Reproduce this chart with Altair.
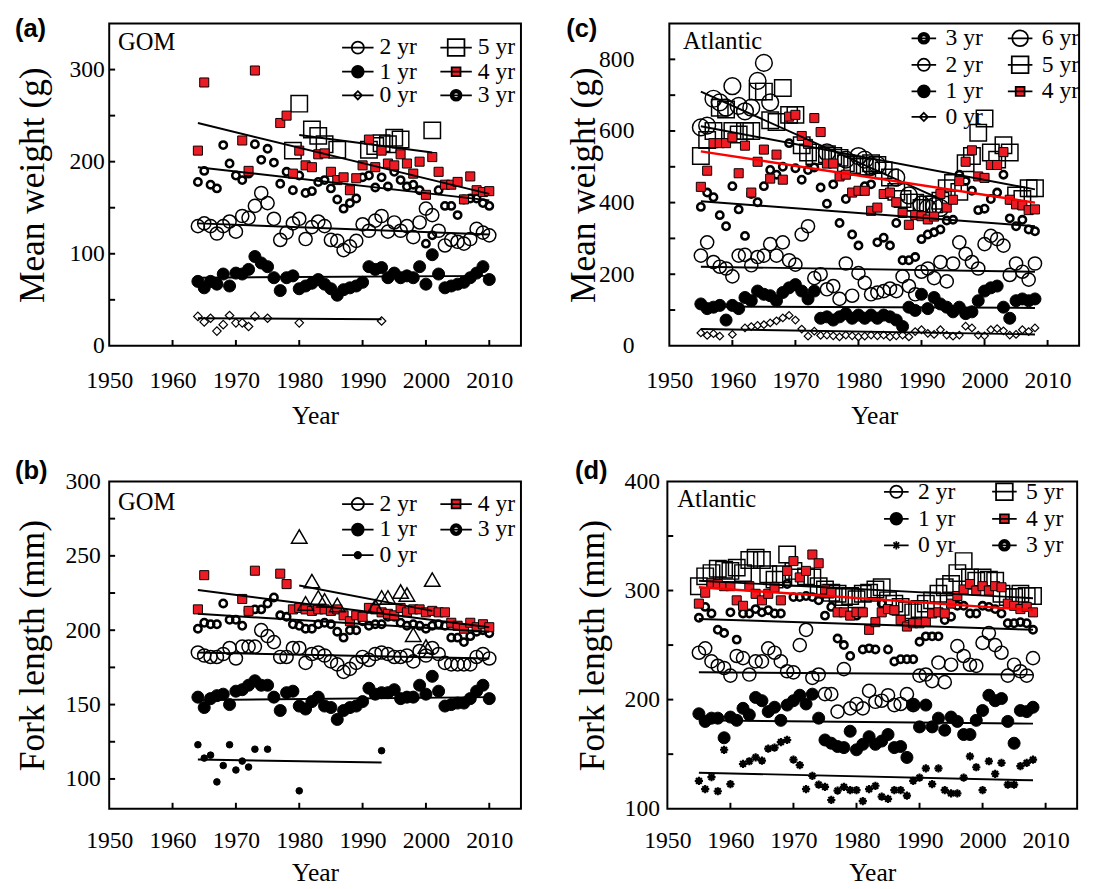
import altair as alt
import pandas as pd
import numpy as np

SERIF = "Liberation Serif"
SANS = "Liberation Sans"
RED = "#ed1c24"

YEARS_GOM = list(range(1964, 2011))
YEARS_ATL = list(range(1955, 2009))
X_LABELS = [1950, 1960, 1970, 1980, 1990, 2000, 2010]
X_TICKS = [1960, 1970, 1980, 1990, 2000, 2010]

# ---------------- (a) GOM, mean weight (g)
a_0yr_years = [1964, 1965, 1966, 1967, 1968, 1969, 1970, 1971, 1972, 1973, 1975, 1980, 1993]
a_0yr = [32, 26, 30, 16, 23, 33, 25, 25, 21, 32, 30, 25, 27]
a_1yr = [70, 63, 70, 67, 78, 65, 79, 78, 83, 97, 90, 86, 74, 60, 74, 76, 62, 65, 68, 72,
         67, 62, 55, 61, 63, 65, 69, 86, 83, 85, 74, 79, 74, 76, 74, 86, 67, 99, 78, 63,
         65, 67, 69, 74, 79, 86, 72]
a_2yr = [130, 133, 130, 122, 130, 135, 124, 141, 139, 152, 166, 155, 138, 115, 123, 133, 138, 116, 129, 135,
         130, 115, 114, 104, 108, 114, 132, 125, 136, 141, 124, 134, 125, 130, 118, 134, 149, 142, 125, 109,
         115, 113, 111, 116, 127, 123, 120]
a_3yr = [178, 190, 175, 171, 218, 198, 185, 180, 187, 219, 202, 214, 199, 176, 189, 169, 185, 166, 168, 178,
         180, 171, 159, 149, 155, 160, 183, 185, 172, 183, 173, 189, 180, 173, 175, 169, 111, 120, 169, 152,
         152, 142, 159, 160, 160, 155, 152]
a_4yr_years = [1964, 1965, 1971, 1972, 1973] + list(range(1977, 2011))
a_4yr = [212, 286, 223, 190, 299, 242, 250, 187, 212, 196, 194, 208, 209, 189, 180, 183, 169, 182, 196, 224,
         194, 212, 198, 196, 208, 198, 187, 200, 164, 205, 189, 175, 175, 178, 159, 184, 169, 167, 168]
a_5yr_years = [1979, 1980, 1982, 1983, 1984, 1986, 1991, 1992, 1993, 1994, 1995, 1996, 2001]
a_5yr = [212, 263, 235, 228, 219, 213, 213, 217, 220, 219, 226, 224, 234]
a_trend_age = ["0 yr", "1 yr", "2 yr", "3 yr", "4 yr", "5 yr"]
a_trend_x0 = [1964, 1964, 1964, 1964, 1964, 1980]
a_trend_x1 = [1993, 2010, 2010, 2010, 2010, 2001]
a_trend_y0 = [30, 74, 133, 194, 242, 229]
a_trend_y1 = [29, 76, 121, 158, 165, 210]

# ---------------- (b) GOM, fork length (mm)
b_0yr_years = [1964, 1965, 1966, 1967, 1968, 1969, 1970, 1971, 1972, 1973, 1975, 1980, 1993]
b_0yr = [123, 114, 116, 98, 109, 123, 106, 112, 108, 120, 120, 92, 119]
b_1yr = [155, 148, 154, 156, 157, 150, 159, 160, 163, 166, 163, 163, 155, 146, 158, 159, 149, 147, 152, 155,
         149, 148, 140, 146, 148, 149, 152, 161, 157, 158, 158, 160, 154, 155, 155, 163, 157, 169, 159, 149,
         150, 151, 151, 154, 159, 163, 154]
b_2yr = [185, 183, 182, 182, 184, 188, 181, 189, 189, 189, 200, 196, 192, 182, 182, 188, 188, 178, 184, 185,
         183, 179, 177, 172, 174, 178, 182, 180, 184, 185, 184, 182, 182, 183, 179, 186, 183, 188, 184, 178,
         177, 177, 177, 177, 182, 184, 181]
b_3yr = [201, 205, 204, 204, 218, 207, 207, 203, 213, 214, 214, 218, 222, 210, 209, 204, 203, 201, 201, 204,
         205, 204, 199, 195, 200, 200, 206, 203, 204, 204, 209, 209, 205, 203, 204, 203, 201, 203, 204, 203,
         195, 195, 192, 196, 199, 200, 198]
b_4yr_years = [1964, 1965, 1971, 1972, 1973] + list(range(1977, 2011))
b_4yr = [214, 237, 221, 213, 240, 238, 231, 214, 215, 214, 213, 214, 214, 213, 214, 210, 206, 210, 209, 215,
         214, 212, 211, 210, 215, 212, 214, 214, 212, 213, 212, 212, 205, 203, 201, 205, 202, 204, 202]
b_5yr_years = [1980, 1981, 1982, 1983, 1984, 1986, 1992, 1993, 1994, 1996, 1997, 1998, 2000, 2001]
b_5yr = [263, 218, 233, 222, 220, 217, 216, 222, 222, 226, 224, 197, 189, 234]
b_trend_age = ["0 yr", "1 yr", "2 yr", "3 yr", "4 yr", "5 yr"]
b_trend_x0 = [1964, 1964, 1964, 1964, 1964, 1980]
b_trend_x1 = [1993, 2010, 2010, 2010, 2010, 2001]
b_trend_y0 = [113, 153, 185, 211, 227, 230]
b_trend_y1 = [111, 155, 181, 199, 202, 213]

# ---------------- (c) Atlantic, mean weight (g)
c_0yr = [36, 29, 34, 27, None, 32, None, 50, 54, 57, 59, 64, 70, 78, 85, 72, 47, 27, 41, 29,
         30, 28, 25, 30, 28, 25, 27, 30, 28, 30, 25, 28, 30, 25, 40, 45, 35, 32, 45, 30,
         27, 30, 55, 50, 30, 28, 45, 48, 42, 30, 32, 45, 40, 50]
c_1yr = [117, 104, 108, 113, 72, 113, 104, 135, 126, 153, 144, 140, 126, 149, 162, 171, 153, 131, 153, 77,
         81, 72, 81, 90, 77, 86, 77, 86, 77, 86, 81, 72, 54, 108, 99, 144, 104, 135, 117, 108,
         95, 108, 90, 95, 126, 153, 162, 167, 108, 77, 126, 131, 126, 131]
c_2yr = [252, 289, 234, 221, 216, 194, 252, 254, 225, 248, 252, 284, 252, 289, 239, 227, 311, 334, 189, 200,
         158, 167, 131, 230, 140, 203, 176, 144, 149, 153, 160, 153, 194, 167, 144, 207, 216, 189, 234, 180,
         230, 289, 257, 234, 216, 284, 307, 298, 280, 198, 230, 207, 185, 230]
c_3yr = [388, 428, 415, 365, 334, 446, 381, 307, 424, 401, 446, 491, 478, 500, 566, 496, 464, 491, 498, 442,
         397, 451, 343, 410, 311, 280, 446, 451, 289, 302, 280, 343, 239, 239, 248, 298, 311, 317, 325, 350,
         352, 478, 460, 433, 379, 383, 410, 428, 478, 356, 334, 352, 325, 320]
c_4yr = [444, 489, 566, 566, 566, 582, 482, 559, 428, 514, 548, 467, 534, 464, 640, 645, 586, 564, 636, 597,
         509, 509, 473, 478, 428, 433, 433, 377, 386, 424, 428, 401, 371, 338, 365, 362, 353, 361, 424, 386,
         408, 460, 514, 546, 473, 469, 505, 505, 541, 408, 395, 392, 379, 381]
c_5yr = [530, 575, 600, 665, 660, 600, 590, 600, 600, 710, 710, 630, 625, 720, 645, 645, 560, 540, 530, 530,
         535, 530, 525, 510, 505, 500, 500, 510, 505, 490, 470, 430, 410, 400, 400, 385, 395, 395, 405, 440,
         455, 430, 510, 530, 595, 635, 540, 520, 560, 540, 420, 410, 440, 440]
c_6yr_years = [1955, 1956, 1957, 1958, 1959, 1960, 1961, 1962, 1963, 1964, 1965, 1966, 1975, 1978, 1980,
               1981, 1982, 1983, 1986, 1988, 1990, 1991, 1992, 1993]
c_6yr = [610, 615, 690, 680, 665, 725, 670, 655, 665, 740, 790, 680, 540, 520, 530,
         520, 500, 505, 470, 420, 395, 385, 390, 385]
c_trend_age = ["0 yr", "1 yr", "2 yr", "3 yr", "4 yr", "5 yr", "6 yr"]
c_trend_x0 = [1955, 1955, 1955, 1955, 1955, 1955, 1955]
c_trend_x1 = [2008, 2008, 2008, 2008, 2008, 2008, 1993]
c_trend_y0 = [47, 110, 221, 404, 543, 613, 710]
c_trend_y1 = [32, 106, 207, 334, 400, 437, 410]

# ---------------- (d) Atlantic, fork length (mm)
d_0yr = [125.5, 118, 129, 116, 154, 122.5, None, 141, 143.5, 147, 144, 155, 156, 161, 163, 145, 140, 118, 130, 122,
         120, 108, 116.5, 120, 117, 117, 107, 118, 121, 111, 109, 117, 117, 112, 125.5, 128.5, 137, 122.5, 137, 117,
         114, 114, 128.5, 148, 138, 117, 143.5, 132, 142, 122, 122, 139, 142, 145]
d_1yr = [187, 180, 183, 183, 165, 184, 181, 192, 186, 202, 199, 189, 193, 181, 195, 199, 204, 196, 205, 183,
         163, 160, 157, 156, 171, 154, 159, 166, 159, 162, 168, 156, 157, 147, 195, 175, 195, 175, 183, 172,
         184, 180, 168, 168, 181, 190, 204, 199, 201, 180, 160, 190, 189, 193]
d_2yr = [243, 247, 235, 231, 229, 222, 240, 238, 223, 235, 235, 247, 243, 235, 226, 225, 250, 264, 220, 223,
         205, 205, 189, 228, 192, 196, 192, 208, 198, 199, 204, 195, 196, 205, 195, 222, 223, 217, 234, 216,
         232, 249, 240, 232, 231, 252, 261, 250, 243, 222, 232, 226, 222, 238]
d_3yr = [275, 285, 279, 264, 261, 280, 255, 279, 279, 283, 280, 282, 279, 279, 306, 294, 294, 295, 294, 291,
         277, 285, 256, 250, 240, 277, 246, 247, 246, 288, 246, 235, 237, 237, 237, 253, 258, 258, 258, 273,
         276, 286, 286, 279, 279, 286, 285, 283, 279, 270, 270, 271, 270, 264]
d_4yr = [288, 298, 307, 306, 304, 304, 291, 286, 304, 297, 291, 297, 303, 291, 318, 327, 312, 318, 333, 325,
         301, 298, 280, 280, 277, 280, 280, 264, 271, 280, 283, 282, 273, 267, 270, 270, 271, 279, 280, 279,
         288, 295, 301, 306, 300, 304, 300, 304, 303, 288, 286, 283, 285, 280]
d_5yr = [304, 313, 316, 320, 319, 318, 321, 316, 328, 330, 328, 315, 310, 315, 333, 318, 312, 313, 312, 304,
         301, 298, 297, 294, 295, 292, 297, 298, 301, 303, 291, 288, 285, 282, 280, 283, 288, 291, 297, 303,
         306, 316, 327, 312, 309, 312, 310, 309, 297, 294, 294, 297, 295, 295]
d_trend_age = ["0 yr", "1 yr", "2 yr", "3 yr", "4 yr", "5 yr"]
d_trend_x0 = [1955, 1955, 1955, 1955, 1955, 1955]
d_trend_x1 = [2008, 2008, 2008, 2008, 2008, 2008]
d_trend_y0 = [133, 181, 225, 274, 303, 309]
d_trend_y1 = [126, 178, 223, 264, 282, 293]


# ---------------- symbol helpers
def circ(r, sweep=1):
    return f"M{r},0A{r},{r},0,1,{sweep},{-r},0A{r},{r},0,1,{sweep},{r},0Z"


def sq(h):
    return f"M{-h},{-h}L{h},{-h}L{h},{h}L{-h},{h}Z"


def dia(h):
    return f"M0,{-h}L{h},0L0,{h}L{-h},0Z"


def star(h):
    d = round(h * 0.7, 3)
    return f"M0,{-h}L0,{h}M{-h},0L{h},0M{-d},{-d}L{d},{d}M{-d},{d}L{d},{-d}"


def bar(L):
    return f"M{-L},0L{L},0"


STAR = star(1)

OPEN_C = dict(shape="circle", filled=False, stroke="black", strokeWidth=1.5)
MARK = {
    "0 yr": dict(shape="diamond", size=75, filled=True, fill="white", stroke="black", strokeWidth=1.2),
    "1 yr": dict(shape="circle", size=150, filled=True, fill="black", stroke="black", strokeWidth=1),
    "2 yr": dict(size=180, **OPEN_C),
    "3 yr": dict(shape="circle", size=56, filled=False, stroke="black", strokeWidth=2.6),
    "4 yr": dict(shape="square", size=85, filled=True, fill=RED, stroke="black", strokeWidth=1),
    "5 yr": dict(shape="square", size=280, filled=False, stroke="black", strokeWidth=1.5),
    "6 yr": dict(size=290, **OPEN_C),
}
MARK_B0 = dict(shape="circle", size=45, filled=True, fill="black", stroke="black", strokeWidth=1)
MARK_TRI = dict(shape="triangle-up", size=250, filled=False, stroke="black", strokeWidth=1.5)
MARK_D0 = dict(shape=STAR, size=70, filled=False, stroke="black", strokeWidth=2.2)


def leg_sym(age, L, variant=None):
    if age == "0 yr":
        if variant == "dot":
            return bar(L) + circ(0.33), "black"
        if variant == "star":
            return bar(L) + star(0.42), "black"
        return bar(L) + dia(0.42), "white"
    if age == "1 yr":
        return bar(L) + circ(0.6), "black"
    if age == "2 yr":
        return bar(L) + circ(0.62), "white"
    if age == "3 yr":
        return bar(L) + circ(0.55) + circ(0.3, 0), "black"
    if age == "4 yr":
        return bar(L) + sq(0.45), RED
    if age == "5 yr":
        return bar(L) + sq(0.85), "white"
    if age == "6 yr":
        return bar(L) + circ(0.8), "white"


DRAW_ORDER = ["0 yr", "1 yr", "2 yr", "3 yr", "5 yr", "6 yr", "4 yr"]


def panel(letter, region, ytitle, series, styles, trends, red_age, ydomain, ylabels, yticks,
          legend_order, L, zero_variant, lgeom, width, height, lab_pad, tit_pad, toff, rxy,
          xlab_pad, xtit_pad):
    xs = alt.Scale(domain=[1950, 2015], nice=False, zero=False)
    ys = alt.Scale(domain=ydomain, nice=False, zero=False)
    xaxis = alt.Axis(values=X_LABELS, format="d", title="Year", labelFlush=False, labelOverlap=False,
                     ticks=False, domain=False, grid=False, labelPadding=xlab_pad, titlePadding=xtit_pad,
                     labelFont=SERIF, titleFont=SERIF, labelFontSize=24, titleFontSize=26,
                     labelColor="black", titleColor="black", titleFontWeight="normal")
    yaxis = alt.Axis(values=ylabels, format="d", title=ytitle, labelFlush=False, labelOverlap=False,
                     ticks=False, domain=False, grid=False, labelPadding=lab_pad, titlePadding=tit_pad,
                     labelFont=SERIF, titleFont=SERIF, labelFontSize=24, titleFontSize=36,
                     labelColor="black", titleColor="black", titleFontWeight="normal")
    X = alt.X("year:Q", scale=xs, axis=xaxis)
    Y = alt.Y("value:Q", scale=ys, axis=yaxis)

    layers = [
        alt.Chart(pd.DataFrame({"value": yticks})).mark_rule(color="black", strokeWidth=2).encode(
            y=Y, x=alt.value(0), x2=alt.value(6)),
        alt.Chart(pd.DataFrame({"year": X_TICKS})).mark_rule(color="black", strokeWidth=2).encode(
            x=X, y=alt.value(height), y2=alt.value(height - 6)),
    ]
    for age in DRAW_ORDER + ["tri"]:
        if age not in series:
            continue
        yrs, vals = series[age]
        df = pd.DataFrame({"year": yrs, "value": vals}).dropna()
        layers.append(alt.Chart(df).mark_point(opacity=1, **styles[age]).encode(x=X, y=Y))

    ages, x0, x1, y0, y1 = trends
    rows = []
    for i, a in enumerate(ages):
        rows.append({"age": a, "year": x0[i], "value": y0[i]})
        rows.append({"age": a, "year": x1[i], "value": y1[i]})
    tdf = pd.DataFrame(rows)
    layers.append(alt.Chart(tdf).transform_filter(alt.datum.age != red_age).mark_line(
        color="black", strokeWidth=2).encode(x=X, y=Y, detail="age:N"))
    if red_age:
        layers.append(alt.Chart(tdf).transform_filter(alt.datum.age == red_age).mark_line(
            color="#ff0000", strokeWidth=2.5).encode(x=X, y=Y, detail="age:N"))

    layers.append(alt.Chart(pd.DataFrame({"label": [region]})).mark_text(
        align="left", baseline="alphabetic", font=SERIF, fontSize=25, color="black").encode(
        text="label:N", x=alt.value(rxy[0]), y=alt.value(rxy[1])))

    syms = [leg_sym(a, L, zero_variant) for a in legend_order]
    lx, ly, lo, cp, rp = lgeom
    leg = alt.Legend(title=None, orient="none", legendX=lx, legendY=ly, columns=2,
                     labelFont=SERIF, labelFontSize=24, labelColor="black",
                     symbolSize=400, symbolStrokeWidth=1.8, symbolOpacity=1,
                     labelOffset=lo, columnPadding=cp, rowPadding=rp, padding=0)
    layers.append(alt.Chart(pd.DataFrame({"age": legend_order})).mark_point(
        filled=True, opacity=0, size=400, strokeWidth=1.8).encode(
        fill=alt.Fill("age:N", scale=alt.Scale(domain=legend_order, range=[s[1] for s in syms]), legend=leg),
        shape=alt.Shape("age:N", scale=alt.Scale(domain=legend_order, range=[s[0] for s in syms]), legend=leg),
        stroke=alt.Stroke("age:N", scale=alt.Scale(domain=legend_order, range=["black"] * len(syms)), legend=leg),
    ))

    return alt.layer(*layers).properties(
        width=width, height=height,
        title=alt.TitleParams(letter, anchor="start", frame="bounds", font=SANS, fontSize=26,
                              fontWeight="bold", offset=toff, color="black"),
    )


ser_a = {"0 yr": (a_0yr_years, a_0yr), "1 yr": (YEARS_GOM, a_1yr), "2 yr": (YEARS_GOM, a_2yr),
         "3 yr": (YEARS_GOM, a_3yr), "4 yr": (a_4yr_years, a_4yr), "5 yr": (a_5yr_years, a_5yr)}
ser_b = {"0 yr": (b_0yr_years, b_0yr), "1 yr": (YEARS_GOM, b_1yr), "2 yr": (YEARS_GOM, b_2yr),
         "3 yr": (YEARS_GOM, b_3yr), "4 yr": (b_4yr_years, b_4yr), "tri": (b_5yr_years, b_5yr)}
ser_c = {"0 yr": (YEARS_ATL, c_0yr), "1 yr": (YEARS_ATL, c_1yr), "2 yr": (YEARS_ATL, c_2yr),
         "3 yr": (YEARS_ATL, c_3yr), "4 yr": (YEARS_ATL, c_4yr), "5 yr": (YEARS_ATL, c_5yr),
         "6 yr": (c_6yr_years, c_6yr)}
ser_d = {"0 yr": (YEARS_ATL, d_0yr), "1 yr": (YEARS_ATL, d_1yr), "2 yr": (YEARS_ATL, d_2yr),
         "3 yr": (YEARS_ATL, d_3yr), "4 yr": (YEARS_ATL, d_4yr), "5 yr": (YEARS_ATL, d_5yr)}

sty_a = dict(MARK)
sty_b = dict(MARK, **{"0 yr": MARK_B0, "tri": MARK_TRI})
sty_c = dict(MARK, **{"0 yr": dict(MARK["0 yr"], size=60)})
sty_d = dict(MARK, **{"0 yr": MARK_D0})

pa = panel("(a)", "GOM", "Mean weight (g)", ser_a, sty_a,
           (a_trend_age, a_trend_x0, a_trend_x1, a_trend_y0, a_trend_y1), None,
           [0, 350], [0, 100, 200, 300], [50, 100, 150, 200, 250, 300],
           ["2 yr", "1 yr", "0 yr", "5 yr", "4 yr", "3 yr"], 1.6, None,
           (241, 12, 10, 20, -1), 419, 328, 5, 18, -19, (9, 27), 23, 11)
pc = panel("(c)", "Atlantic", "Mean weight (g)", ser_c, sty_c,
           (c_trend_age, c_trend_x0, c_trend_x1, c_trend_y0, c_trend_y1), "4 yr",
           [0, 900], [0, 200, 400, 600, 800], [100, 200, 300, 400, 500, 600, 700, 800],
           ["3 yr", "2 yr", "1 yr", "0 yr", "6 yr", "5 yr", "4 yr"], 1.25, None,
           (247, 3, 10, 21, 2), 417, 328, 36, -4, -19, (14, 26), 23, 11)
pb = panel("(b)", "GOM", "Fork length (mm)", ser_b, sty_b,
           (b_trend_age, b_trend_x0, b_trend_x1, b_trend_y0, b_trend_y1), None,
           [80, 300], [100, 150, 200, 250, 300], [100, 125, 150, 175, 200, 225, 250, 275],
           ["2 yr", "1 yr", "0 yr", "4 yr", "3 yr"], 1.6, "dot",
           (241, 11, 10, 20, 2), 419, 333, 9, 14, -15, (9, 29), 20, 8)
pd_ = panel("(d)", "Atlantic", "Fork length (mm)", ser_d, sty_d,
            (d_trend_age, d_trend_x0, d_trend_x1, d_trend_y0, d_trend_y1), "4 yr",
            [100, 400], [100, 200, 300, 400], [150, 200, 250, 300, 350],
            ["2 yr", "1 yr", "0 yr", "5 yr", "4 yr", "3 yr"], 1.25, "star",
            (221, -2, 10, 33, 3), 417, 333, 8, 13, -15, (10, 26), 20, 8)

IND = dict(fill="independent", shape="independent", stroke="independent")
row1 = alt.hconcat(pa, pc, spacing=43).resolve_scale(**IND).resolve_legend(**IND)
row2 = alt.hconcat(pb, pd_, spacing=53).resolve_scale(**IND).resolve_legend(**IND)
chart = alt.vconcat(row1, row2, spacing=29).resolve_scale(**IND).resolve_legend(**IND).configure(
    padding={"left": 5, "top": 0, "right": 5, "bottom": 0}, background="white").configure_view(
    stroke="black", strokeWidth=2).configure_axis(
    labelFont=SERIF, titleFont=SERIF, labelColor="black", titleColor="black", titleFontWeight="normal"
).configure_legend(labelFont=SERIF)

chart.save("out.html", embed_options={"renderer": "svg", "actions": False})
